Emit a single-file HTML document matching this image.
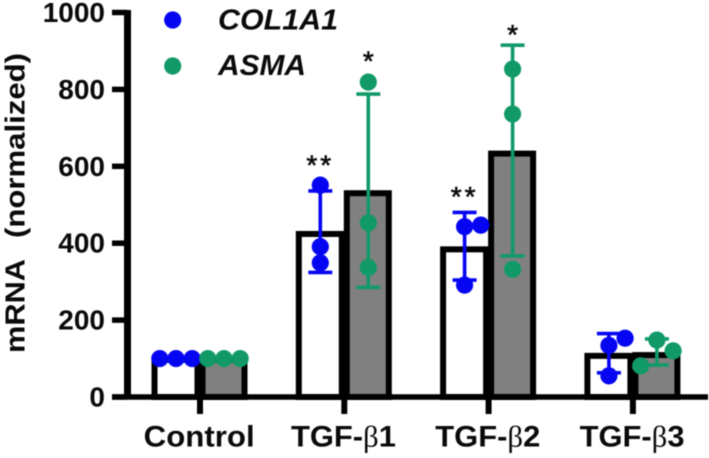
<!DOCTYPE html>
<html lang="en">
<head>
<meta charset="utf-8">
<title>mRNA normalized bar chart</title>
<style>
html,body{margin:0;padding:0;background:#fff;width:709px;height:458px;overflow:hidden}
svg{display:block;filter:blur(0.45px)}
text{font-family:"Liberation Sans",Arial,sans-serif;fill:#0a0a0a}
</style>
</head>
<body>
<svg id="chart" xmlns="http://www.w3.org/2000/svg" width="709" height="458" viewBox="0 0 709 458"></svg>
<script>
const categories = ['Control', 'TGF-', 'TGF-', 'TGF-'];
const categorySuffix = ['', '1', '2', '3'];
const yTicks = [0, 200, 400, 600, 800, 1000];
const col1a1Means = [97, 424, 384, 107];
const asmaMeans = [97, 530, 633, 109];
const col1a1Points = [[100, 100, 100], [551, 391, 349], [443, 447, 291], [134, 153, 55]];
const asmaPoints = [[100, 100, 100], [819, 453, 337], [853, 736, 332], [148, 120, 81]];
const col1a1Slots = [[-1, 0, 1], [0, 0, 0], [0, 1, 0], [0, 1, 0]];
const asmaSlots = [[-1, 0, 1], [0, 0, 0], [0, 0, 0], [0, 1, -1]];
const col1a1Upper = [100, 536, 480, 165];
const col1a1Lower = [100, 324, 304, 63];
const asmaUpper = [100, 788, 915, 151];
const asmaLower = [100, 285, 367, 83];
const col1a1Stars = ['', '**', '**', ''];
const asmaStars = ['', '*', '*', ''];
const col1a1StarLevel = [0, 615, 533, 0];
const asmaStarLevel = [0, 885, 955, 0];

const NS = 'http://www.w3.org/2000/svg';
const svg = document.getElementById('chart');
const BLUE = '#0505f2';
const GREEN = '#119a68';

function yScale(v) { return 397 - v * 0.3845; }
function xScale(i) { return 200 + i * 144.3; }

function mk(tag, attrs, parent) {
  const el = document.createElementNS(NS, tag);
  for (const k in attrs) el.setAttribute(k, attrs[k]);
  (parent || svg).appendChild(el);
  return el;
}

/* Bars */
categories.forEach(function (c, i) {
  const cx = xScale(i);
  const wTop = yScale(col1a1Means[i]);
  const gTop = yScale(asmaMeans[i]);
  const whiteBar = mk('rect', {x: cx - 45.5, y: wTop, width: 43, height: 397 - wTop, fill: '#fff', stroke: '#000', 'stroke-width': 6});
  
  
  const grayBar = mk('rect', {x: cx + 2.5, y: gTop, width: 42, height: 397 - gTop, fill: '#808080', stroke: '#000', 'stroke-width': 6});
  
  
});

/* Axes */
const yAxis = mk('line', {x1: 127.5, x2: 127.5, y1: 10, y2: 399.5, stroke: '#000', 'stroke-width': 7});


const xAxis = mk('line', {x1: 112, x2: 708, y1: 397, y2: 397, stroke: '#000', 'stroke-width': 5.5});



yTicks.forEach(function (t) {
  const y = yScale(t);
  const tick = mk('line', {x1: 112, x2: 127, y1: y, y2: y, stroke: '#000', 'stroke-width': 5.5});
  
  
  const label = mk('text', {x: 105, y: y + 9.5, 'text-anchor': 'end', 'font-size': 28, 'font-weight': 700});
  label.textContent = String(t);
  
  
});

categories.forEach(function (c, i) {
  const cx = xScale(i);
  const tick = mk('line', {x1: cx, x2: cx, y1: 397, y2: 414, stroke: '#000', 'stroke-width': 6});
  
  
  const label = mk('text', {x: cx - 0.8, y: 446.5, 'text-anchor': 'middle', 'font-size': 29.5, 'font-weight': 700, textLength: categorySuffix[i] ? 105 : 111, lengthAdjust: 'spacingAndGlyphs'});
  
  
  label.appendChild(document.createTextNode(c));
  if (categorySuffix[i]) {
    const beta = mk('tspan', {style: 'font-family:"Liberation Serif",serif;font-weight:400'}, label);
    beta.textContent = '\u03B2';
    label.appendChild(document.createTextNode(categorySuffix[i]));
  }
});

const yTitleA = mk('text', {transform: 'translate(24.5,353) rotate(-90)', 'font-size': 27.5, 'font-weight': 700, textLength: 94, lengthAdjust: 'spacingAndGlyphs'});
yTitleA.textContent = 'mRNA';


const yTitleB = mk('text', {transform: 'translate(24.5,238) rotate(-90)', 'font-size': 27.5, 'font-weight': 700, textLength: 185, lengthAdjust: 'spacingAndGlyphs'});
yTitleB.textContent = '(normalized)';



/* Series */
function drawSeries(name, color, offset, points, slots, upper, lower, stars, starLevel) {
  categories.forEach(function (c, i) {
    const cx = xScale(i) + offset;
    const yU = yScale(upper[i]);
    const yL = yScale(lower[i]);
    const stem = mk('line', {x1: cx, x2: cx, y1: yU, y2: yL, stroke: color, 'stroke-width': 3.6});
    
    
    [yU, yL].forEach(function (y) {
      const cap = mk('line', {x1: cx - 12, x2: cx + 12, y1: y, y2: y, stroke: color, 'stroke-width': 3.6});
      
      
    });
    points[i].forEach(function (v, j) {
      const dot = mk('circle', {cx: cx + slots[i][j] * 16.2, cy: yScale(v), r: 8.6, fill: color});
      
      
    });
    if (stars[i]) {
      const star = mk('text', {x: cx, y: yScale(starLevel[i]) + 14, 'text-anchor': 'middle', 'font-size': 28, 'letter-spacing': stars[i].length > 1 ? 3 : 0, stroke: '#0a0a0a', 'stroke-width': 0.6});
      star.textContent = stars[i];
      
      
    }
  });
}
drawSeries('col1a1', BLUE, -24, col1a1Points, col1a1Slots, col1a1Upper, col1a1Lower, col1a1Stars, col1a1StarLevel);
drawSeries('asma', GREEN, 24, asmaPoints, asmaSlots, asmaUpper, asmaLower, asmaStars, asmaStarLevel);

/* Legend */
const legendDot1 = mk('circle', {cx: 172.7, cy: 20, r: 8.6, fill: BLUE});


const legendText1 = mk('text', {x: 218, y: 29.5, 'font-size': 29, 'font-weight': 700, 'font-style': 'italic', textLength: 120, lengthAdjust: 'spacingAndGlyphs'});
legendText1.textContent = 'COL1A1';


const legendDot2 = mk('circle', {cx: 172.7, cy: 66, r: 8.6, fill: GREEN});


const legendText2 = mk('text', {x: 218, y: 75, 'font-size': 29, 'font-weight': 700, 'font-style': 'italic', textLength: 88, lengthAdjust: 'spacingAndGlyphs'});
legendText2.textContent = 'ASMA';


</script>
</body>
</html>
